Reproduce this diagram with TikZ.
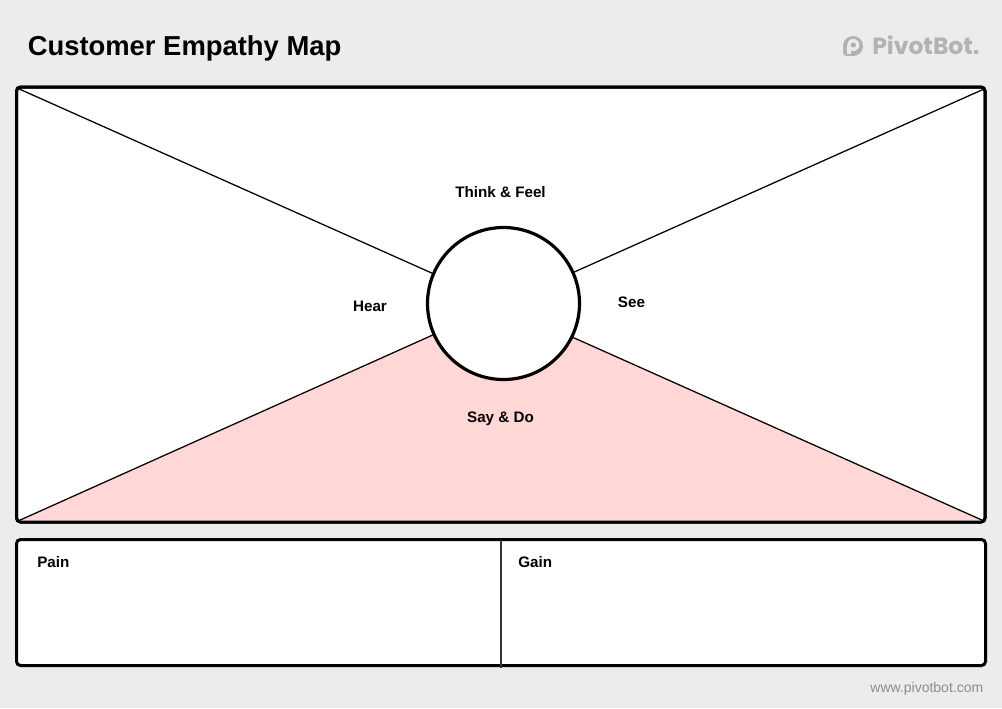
\documentclass[tikz,border=0pt]{standalone}
\usepackage{fontspec}
\setmainfont{Liberation Sans}
\newfontfamily\logofont{Poppins}
\definecolor{pagebg}{HTML}{ECECEC}
\definecolor{sayfill}{HTML}{FFD7D7}
\definecolor{logogrey}{HTML}{B2B2B2}
\definecolor{footgrey}{HTML}{8C8C8C}
\definecolor{divider}{HTML}{333333}
\tikzset{
  frame/.style={draw=black,line width=2.25pt,fill=white,rounded corners=3pt},
  spoke/.style={draw=black,line width=0.95pt},
  label/.style={font=\bfseries\fontsize{11.4pt}{13pt}\selectfont,text=black,inner sep=0pt,anchor=center},
  hub/.style={circle,draw=black,line width=2.4pt,fill=white,minimum size=114pt,inner sep=0pt}
}
\begin{document}
\begin{tikzpicture}[x=0.75pt,y=-0.75pt]
\useasboundingbox (0,0) rectangle (1002,708);
\fill[pagebg] (0,0) rectangle (1002,708);
\node[font=\bfseries\fontsize{20.55pt}{24pt}\selectfont,inner sep=0pt,anchor=west] (title) at (27.5,48.5) {Customer Empathy Map};
% logo
\fill[logogrey,rounded corners=2.5pt] (843,46) -- (843,56) -- (853,56) -- (853,46) -- cycle;
\fill[logogrey] (853,46) circle[radius=10];
\fill[pagebg] (853.3,45) circle[radius=6];
\fill[pagebg] (847.3,45) rectangle (851,54);
\fill[logogrey] (853.3,45) circle[radius=2.6];
\node[font=\logofont\bfseries\fontsize{17.6pt}{20pt}\selectfont,text=logogrey,inner sep=0pt,anchor=west] (logo) at (872,45) {PivotBot.};
% map frame
\draw[frame] (16.5,87) rectangle (985,522);
\coordinate (tl) at (17,88);
\coordinate (tr) at (984,89);
\coordinate (bl) at (18,521);
\coordinate (br) at (984,521);
\fill[sayfill] (bl) -- (433,335) -- (573,337) -- (br) -- cycle;
\node[hub] (hub) at (503.5,303.5) {};
\draw[spoke] (tl) -- (hub.157);
\draw[spoke] (tr) -- (hub.24.4);
\draw[spoke] (bl) -- (hub.204.4);
\draw[spoke] (br) -- (hub.-26);
\draw[black,line width=2.25pt,rounded corners=3pt] (16.5,87) rectangle (985,522);
\node[label] (think) at (500.5,192) {Think \& Feel};
\node[label] (hear) at (370,306.5) {Hear};
\node[label] (see) at (631.5,302.5) {See};
\node[label] (say) at (500.5,418.5) {Say \& Do};
% bottom frame
\draw[frame] (16.5,539.5) rectangle (985.5,665.5);
\coordinate (divtop) at (501,539.5);
\coordinate (divbot) at (501,667.5);
\draw[divider,line width=1.5pt] (divtop) -- (divbot);
\node[label,anchor=west] (pain) at (37,562) {Pain};
\node[label,anchor=west] (gain) at (518,562) {Gain};
\node[font=\fontsize{10.5pt}{12pt}\selectfont,text=footgrey,inner sep=0pt,anchor=east] (foot) at (983.5,688.5) {www.pivotbot.com};
\end{tikzpicture}
\end{document}
